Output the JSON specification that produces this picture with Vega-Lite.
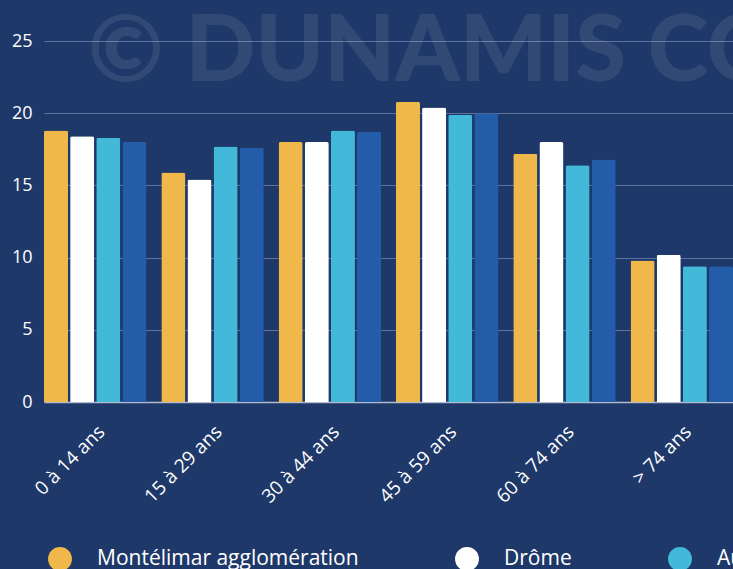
{
  "$schema": "https://vega.github.io/schema/vega-lite/v6.json",
  "autosize": {"type": "none"},
  "width": 689,
  "height": 361,
  "padding": {"left": 44, "top": 41, "right": 0, "bottom": 167},
  "background": "#1e3869",
  "datasets": {
    "bars": [
      {"age": "0 à 14 ans", "serie": "Montélimar agglomération", "val": 18.8},
      {"age": "0 à 14 ans", "serie": "Drôme", "val": 18.4},
      {"age": "0 à 14 ans", "serie": "Auvergne-Rhône-Alpes", "val": 18.3},
      {"age": "0 à 14 ans", "serie": "France", "val": 18.0},
      {"age": "15 à 29 ans", "serie": "Montélimar agglomération", "val": 15.9},
      {"age": "15 à 29 ans", "serie": "Drôme", "val": 15.4},
      {"age": "15 à 29 ans", "serie": "Auvergne-Rhône-Alpes", "val": 17.7},
      {"age": "15 à 29 ans", "serie": "France", "val": 17.6},
      {"age": "30 à 44 ans", "serie": "Montélimar agglomération", "val": 18.0},
      {"age": "30 à 44 ans", "serie": "Drôme", "val": 18.0},
      {"age": "30 à 44 ans", "serie": "Auvergne-Rhône-Alpes", "val": 18.8},
      {"age": "30 à 44 ans", "serie": "France", "val": 18.7},
      {"age": "45 à 59 ans", "serie": "Montélimar agglomération", "val": 20.8},
      {"age": "45 à 59 ans", "serie": "Drôme", "val": 20.4},
      {"age": "45 à 59 ans", "serie": "Auvergne-Rhône-Alpes", "val": 19.9},
      {"age": "45 à 59 ans", "serie": "France", "val": 20.0},
      {"age": "60 à 74 ans", "serie": "Montélimar agglomération", "val": 17.2},
      {"age": "60 à 74 ans", "serie": "Drôme", "val": 18.0},
      {"age": "60 à 74 ans", "serie": "Auvergne-Rhône-Alpes", "val": 16.4},
      {"age": "60 à 74 ans", "serie": "France", "val": 16.8},
      {"age": "> 74 ans", "serie": "Montélimar agglomération", "val": 9.8},
      {"age": "> 74 ans", "serie": "Drôme", "val": 10.2},
      {"age": "> 74 ans", "serie": "Auvergne-Rhône-Alpes", "val": 9.4},
      {"age": "> 74 ans", "serie": "France", "val": 9.4}
    ],
    "watermark": [
      {"wm": "© DUNAMIS CONSEIL", "age": "0 à 14 ans", "val": 25}
    ]
  },
  "layer": [
    {
      "data": {"name": "watermark"},
      "mark": {
        "type": "text",
        "align": "left",
        "baseline": "middle",
        "font": "Lato",
        "fontWeight": 900,
        "fontSize": 92,
        "fill": "#ffffff",
        "opacity": 0.085,
        "dx": 44,
        "dy": 12
      },
      "encoding": {
        "x": {"field": "age", "type": "nominal", "bandPosition": 0},
        "y": {"field": "val", "type": "quantitative"},
        "text": {"field": "wm"}
      }
    },
    {
      "data": {"name": "bars"},
      "mark": {"type": "bar", "cornerRadiusTopLeft": 2, "cornerRadiusTopRight": 2},
      "encoding": {
        "x": {"field": "age", "type": "nominal"},
        "xOffset": {
          "field": "serie",
          "type": "nominal",
          "sort": ["Montélimar agglomération", "Drôme", "Auvergne-Rhône-Alpes", "France"],
          "scale": {"paddingInner": 0.08, "paddingOuter": 0}
        },
        "y": {"field": "val", "type": "quantitative"},
        "color": {
          "field": "serie",
          "type": "nominal",
          "sort": ["Montélimar agglomération", "Drôme", "Auvergne-Rhône-Alpes", "France"],
          "scale": {
            "domain": ["Montélimar agglomération", "Drôme", "Auvergne-Rhône-Alpes", "France"],
            "range": ["#f0b84a", "#ffffff", "#42b9d8", "#235ca8"]
          },
          "legend": {
            "title": null,
            "orient": "bottom",
            "direction": "horizontal",
            "symbolType": "circle",
            "symbolSize": 570,
            "symbolStrokeWidth": 0,
            "labelFontSize": 21,
            "labelFont": "Open Sans",
            "labelColor": "#ffffff",
            "labelOffset": 25,
            "columnPadding": 96,
            "offset": 36,
            "padding": 4,
            "labelLimit": 400
          }
        }
      }
    }
  ],
  "encoding": {
    "x": {
      "field": "age",
      "type": "nominal",
      "sort": ["0 à 14 ans", "15 à 29 ans", "30 à 44 ans", "45 à 59 ans", "60 à 74 ans", "> 74 ans"],
      "scale": {"paddingInner": 0.127, "paddingOuter": 0},
      "axis": {
        "title": null,
        "labelAngle": -45,
        "labelFontSize": 19,
        "labelFont": "Open Sans",
        "labelColor": "#ffffff",
        "ticks": false,
        "labelPadding": 20,
        "domainColor": "#b3bccf",
        "domainWidth": 1.5
      }
    },
    "y": {
      "field": "val",
      "type": "quantitative",
      "scale": {"domain": [0, 25], "nice": false},
      "axis": {
        "title": null,
        "values": [0, 5, 10, 15, 20, 25],
        "labelFontSize": 18,
        "labelFont": "Open Sans",
        "labelColor": "#ffffff",
        "ticks": false,
        "domain": false,
        "labelPadding": 12,
        "gridColor": "#5d729c",
        "gridWidth": 1
      }
    }
  },
  "config": {
    "view": {"stroke": null}
  }
}
